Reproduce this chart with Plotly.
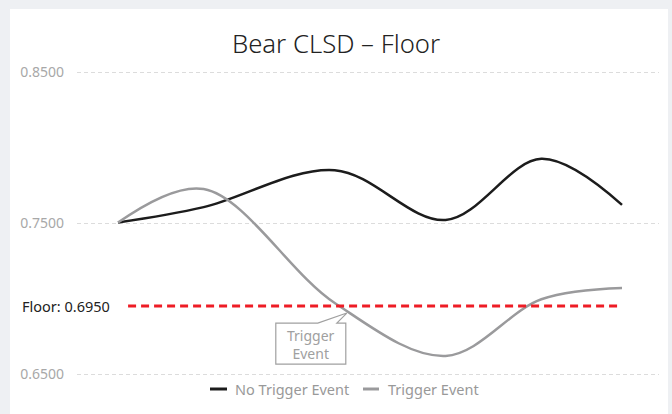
import plotly.graph_objects as go

# ---- data ----
x_pos = [0, 17, 43, 65, 84, 100]
no_trigger = [0.7503, 0.7605, 0.7850, 0.7520, 0.7925, 0.7620]
trigger = [0.7503, 0.7725, 0.6970, 0.6620, 0.6995, 0.7070]
floor_level = 0.6950
floor_x = [2, 100]
trigger_x = 45
y_ticks = [0.65, 0.75, 0.85]
y_tick_text = ["0.6500", "0.7500", "0.8500"]
series_names = ["No Trigger Event", "Trigger Event"]
series_colors = ["#1c1c1c", "#9a9a9c"]

FONT = "Noto Sans"
W, H = 672, 414
ml, mr, mt, mb = 77, 13, 70, 38

fig = go.Figure()
for name, vals, col in zip(series_names, [no_trigger, trigger], series_colors):
    fig.add_trace(go.Scatter(x=x_pos, y=vals, name=name, mode="lines", showlegend=False,
                             line=dict(color=col, width=2.5, shape="spline", smoothing=1.0)))
fig.add_trace(go.Scatter(x=floor_x, y=[floor_level] * len(floor_x), mode="lines", showlegend=False,
                         hoverinfo="skip",
                         line=dict(color="#ee1c25", width=3, dash="8px,5px")))

pw = W - ml - mr
ph = H - mt - mb
def px_x(p):
    return (p - ml) / pw
def px_y(p):
    return (H - mb - p) / ph

shapes = [
    # white card
    dict(type="rect", xref="paper", yref="paper", x0=px_x(10), x1=px_x(668), y0=px_y(430), y1=px_y(9),
         fillcolor="white", line=dict(width=0), layer="below"),
    # callout bubble
    dict(type="path", xref="x", yref="y", xsizemode="pixel", ysizemode="pixel",
         xanchor=trigger_x, yanchor=floor_level,
         path="M -69,-17 L -27,-17 L 2,-7 L -8,-17 L 1,-17 L 1,-58 L -69,-58 Z",
         fillcolor="white", line=dict(color="#a0a0a0", width=1.2), layer="above"),
]

annotations = [
    dict(text="Floor: 0.6950", xref="paper", yref="y", x=px_x(20), y=floor_level, xanchor="left",
         yanchor="middle", showarrow=False, font=dict(family=FONT, size=14.5, color="#222")),
    dict(text="Trigger<br>Event", xref="x", yref="y", x=trigger_x, y=floor_level, xshift=-34, yshift=-38,
         showarrow=False, font=dict(family=FONT, size=14, color="#a0a0a0"), xanchor="center",
         yanchor="middle"),
]

# manual legend (bottom centre)
legend_items = [(210, 227, 233), (363, 379, 386)]
for (s0, s1, tx), name, col in zip(legend_items, series_names, series_colors):
    shapes.append(dict(type="line", xref="paper", yref="paper", x0=px_x(s0), x1=px_x(s1),
                       y0=px_y(389), y1=px_y(389), line=dict(color=col, width=3)))
    annotations.append(dict(text=name, xref="paper", yref="paper", x=px_x(tx), y=px_y(389),
                            xanchor="left", yanchor="middle", showarrow=False,
                            font=dict(family=FONT, size=14.5, color="#999")))

fig.update_layout(
    width=W, height=H,
    margin=dict(l=ml, r=mr, t=mt, b=mb),
    paper_bgcolor="#eef0f3", plot_bgcolor="rgba(0,0,0,0)",
    title=dict(text="Bear CLSD – Floor", x=0.5, xref="container", xanchor="center",
               y=1 - 44 / H, yref="container", yanchor="middle",
               font=dict(family=FONT, size=25.7, color="#222", weight=300)),
    xaxis=dict(range=[(ml - 118) / 5.04, (ml + pw - 118) / 5.04], visible=False, fixedrange=True),
    yaxis=dict(range=[0.65 - 2 / 1510, 0.85 + 2 / 1510], tickvals=y_ticks, ticktext=y_tick_text,
               showgrid=True, gridcolor="#dcdcdc", griddash="4px,3px", gridwidth=1,
               zeroline=False, showline=False, ticks="", ticklabelstandoff=12,
               tickfont=dict(family=FONT, size=14, color="#a8a8a8")),
    shapes=shapes, annotations=annotations,
    showlegend=False,
)

fig.write_html("out.html", post_script="document.body.style.margin='0';",
               config={"displayModeBar": False})
